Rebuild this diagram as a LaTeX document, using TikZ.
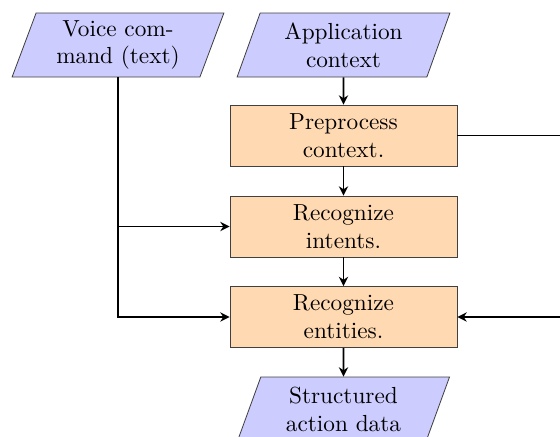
\documentclass[tikz,border=0pt]{standalone}
\usetikzlibrary{shapes.geometric,arrows.meta}
\begin{document}
\begin{tikzpicture}[x=0.43pt,y=-0.43pt,
  iobox/.style={trapezium, trapezium left angle=70, trapezium right angle=110,
    trapezium stretches=true, draw=black!75, fill=blue!20, line width=0.35pt,
    minimum width=213*0.43pt, minimum height=64*0.43pt, align=center, inner sep=0pt},
  procbox/.style={rectangle, draw=black!75, fill=orange!30, line width=0.35pt,
    minimum width=227*0.43pt, minimum height=61*0.43pt, align=center, inner sep=0pt},
  conn/.style={line width=0.7pt, -{Stealth[length=4pt, width=4pt, inset=1.3pt]}}]
\useasboundingbox (0,0) rectangle (560,436);
\clip (0,0) rectangle (560,436);
\node[iobox] (voice) at (118,45) {Voice com-\\mand (text)};
\node[iobox] (app) at (343.5,45) {Application\\context};
\node[procbox] (pre) at (343.5,135.5) {Preprocess\\context.};
\node[procbox] (intents) at (343.5,226.5) {Recognize\\intents.};
\node[procbox] (entities) at (343.5,317) {Recognize\\entities.};
\node[iobox] (out) at (343.5,409) {Structured\\action data};
\coordinate (rt) at (566,317);
\draw[conn] (app) -- (pre);
\draw[conn] (pre) -- (intents);
\draw[conn] (intents) -- (entities);
\draw[conn] (entities) -- (out);
\draw[conn] (voice.south) |- (entities.west);
\draw[conn] (voice.south |- intents.west) -- (intents.west);
\draw[conn] (pre.east) -| (rt) -- (entities.east);
\end{tikzpicture}
\end{document}
